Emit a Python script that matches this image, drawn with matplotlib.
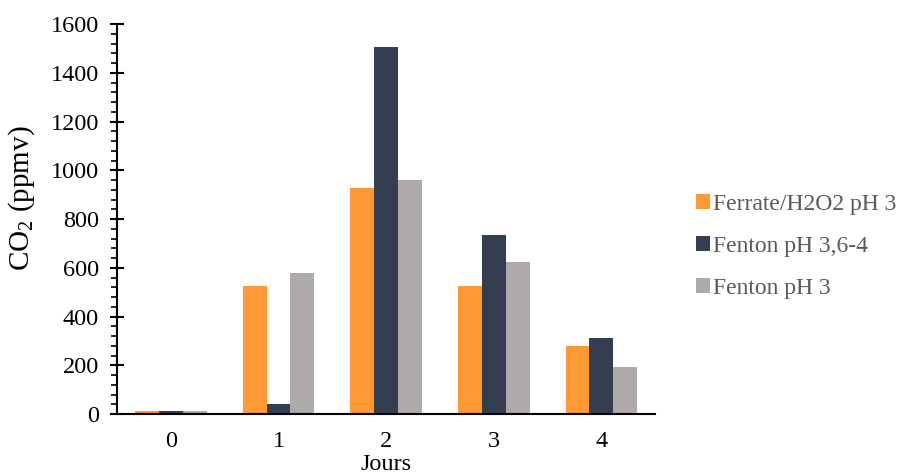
import numpy as np
import matplotlib
matplotlib.use("Agg")
from matplotlib import pyplot as plt
from matplotlib.ticker import MultipleLocator

# data
days = ["0", "1", "2", "3", "4"]
ferrate = [15, 525, 927, 525, 280]
fenton_36 = [15, 42, 1508, 735, 312]
fenton_3 = [15, 580, 962, 625, 195]
labels = ["Ferrate/H2O2 pH 3", "Fenton pH 3,6-4", "Fenton pH 3"]
colors = ["#FF9933", "#333F50", "#AEAAAA"]

plt.rcParams['font.family'] = ['Liberation Serif', 'DejaVu Serif']
plt.rcParams['mathtext.fontset'] = 'custom'
plt.rcParams['mathtext.rm'] = 'Liberation Serif'

fig = plt.figure(figsize=(9, 4.75), dpi=100)
ax = fig.add_axes([0.130, 0.128, 0.598, 0.821])

x = np.arange(len(days))
w = 0.222
series = [ferrate, fenton_36, fenton_3]
for i, vals in enumerate(series):
    ax.bar(x + (i - 1) * w, vals, width=w, color=colors[i], label=labels[i])

ax.set_xlim(-0.5, 4.5)
ax.set_ylim(0, 1600)
ax.yaxis.set_major_locator(MultipleLocator(200))
ax.yaxis.set_minor_locator(MultipleLocator(40))
ax.set_xticks(x)
ax.set_xticklabels(days)

for s in ["top", "right"]:
    ax.spines[s].set_visible(False)
ax.spines["left"].set_linewidth(1.5)
ax.spines["bottom"].set_linewidth(1.5)

ax.tick_params(axis="y", which="major", direction="inout", length=10, width=1.5,
               labelsize=17.5, pad=8)
ax.tick_params(axis="y", which="minor", direction="out", length=4, width=1.2)
ax.tick_params(axis="x", length=0, labelsize=17.5, pad=12)

ax.set_ylabel(r"CO$_\mathregular{2}$ (ppmv)", fontsize=21)
ax.yaxis.set_label_coords(-0.149, 0.554)
ax.set_xlabel("Jours", fontsize=17.5, va="bottom")
ax.xaxis.set_label_coords(0.5, -0.155)

leg = fig.legend(loc="upper left", bbox_to_anchor=(0.75, 0.636), frameon=False,
                 fontsize=17, handlelength=0.6, handleheight=0.6, handletextpad=0.12,
                 labelspacing=0.88)
for t in leg.get_texts():
    t.set_color("#595959")

fig.savefig("out.png", dpi=100)
